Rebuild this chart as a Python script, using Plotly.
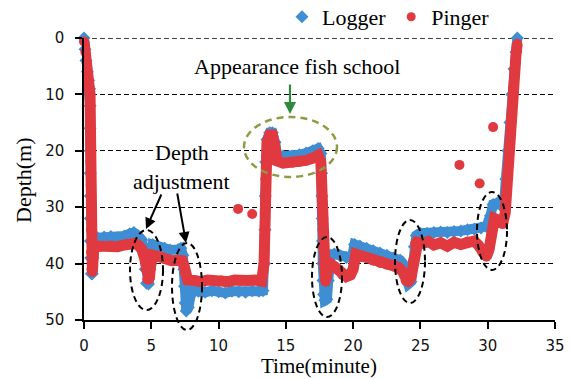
import plotly.graph_objects as go

# ---------------- data (time in minutes, depth in metres) ----------------
logger_t = [0.0, 0.08, 0.15, 0.25, 0.35, 0.42, 0.45, 0.45, 0.46, 0.46, 0.47, 0.47, 0.48, 0.5, 0.55, 0.62, 0.66, 0.68, 0.75,
            1.0, 1.5, 2.0, 2.5, 3.0, 3.4, 3.7, 4.0, 4.3, 4.45, 4.55, 4.65, 4.8, 4.9, 5.0, 5.1, 5.4, 6.0, 6.4, 7.0, 7.2,
            7.35, 7.42, 7.47, 7.52, 7.6, 7.75, 7.85, 8.0, 8.5, 9.0, 9.5, 10.0, 10.5, 11.0, 11.5, 12.0, 12.5, 13.0, 13.3,
            13.42, 13.45, 13.47, 13.5, 13.6, 13.8, 14.0, 14.2, 14.35, 14.8, 15.5, 16.0, 16.5, 17.0, 17.4, 17.6, 17.66,
            17.68, 17.7, 17.72, 17.74, 17.76, 17.8, 17.9, 18.05, 18.15, 18.3, 18.6, 19.0, 19.5, 19.9, 20.1, 20.5, 21.0,
            21.5, 22.0, 22.5, 23.0, 23.5, 23.7, 23.9, 24.1, 24.3, 24.45, 24.55, 24.7, 25.0, 25.5, 26.0, 26.5, 27.0, 27.5,
            28.0, 28.5, 29.0, 29.5, 29.9, 30.2, 30.4, 30.7, 31.0, 31.2, 31.35, 31.5, 31.65, 31.8, 31.95, 32.1, 32.2]
logger_d = [0.0, 2.0, 4.0, 6.0, 7.5, 9.0, 12.0, 16.0, 20.0, 24.0, 28.0, 32.0, 36.0, 39.0, 41.8, 41.8, 39.0, 36.0, 35.3,
            35.4, 35.3, 35.2, 35.4, 35.1, 34.7, 34.5, 35.0, 35.8, 38.0, 41.0, 43.5, 43.6, 41.0, 38.0, 36.6, 36.8, 37.3,
            37.6, 37.5, 37.3, 38.5, 41.0, 44.0, 47.0, 48.4, 47.8, 45.8, 44.8, 44.9, 45.1, 44.8, 45.0, 45.2, 44.9, 45.0,
            45.1, 44.8, 44.9, 44.8, 40.0, 34.0, 28.0, 22.0, 18.0, 16.8, 16.8, 18.5, 20.8, 20.9, 20.9, 20.7, 20.4, 20.0,
            19.6, 20.5, 24.0, 28.0, 32.0, 36.0, 40.0, 43.0, 45.5, 46.5, 46.3, 43.0, 38.5, 38.3, 38.5, 38.9, 39.0, 36.6,
            36.9, 37.3, 37.7, 38.1, 38.5, 39.0, 39.4, 40.0, 42.5, 43.6, 43.2, 40.0, 37.0, 35.0, 34.6, 34.6, 34.5, 34.4,
            34.5, 34.3, 34.2, 34.0, 33.9, 33.7, 33.4, 31.5, 29.5, 29.3, 29.8, 29.6, 25.0, 20.0, 15.0, 10.0, 5.5, 2.5, 0.0]

pinger_t = [0.0, 0.1, 0.2, 0.3, 0.38, 0.45, 0.47, 0.48, 0.49, 0.5, 0.5, 0.51, 0.52, 0.56, 0.62, 0.68, 0.72, 0.85,
            1.2, 1.6, 2.0, 2.5, 3.0, 3.5, 3.8, 4.1, 4.3, 4.5, 4.6, 4.7, 4.85, 4.95, 5.1, 5.5, 6.0, 6.5, 7.0, 7.3, 7.45,
            7.55, 7.7, 8.2, 8.7, 9.2, 9.7, 10.2, 10.7, 11.2, 11.7, 12.2, 12.7, 13.2, 13.38, 13.42, 13.45, 13.48, 13.52,
            13.6, 13.8, 14.0, 14.15, 14.35, 14.8, 15.5, 16.0, 16.5, 17.0, 17.4, 17.6, 17.65, 17.68, 17.7, 17.72, 17.75,
            17.8, 17.9, 17.95, 18.1, 18.3, 18.6, 18.9, 19.2, 19.5, 19.8, 20.0, 20.2, 20.6, 21.0, 21.5, 22.0, 22.5, 23.0,
            23.4, 23.7, 23.9, 24.1, 24.3, 24.45, 24.6, 24.8, 25.2, 25.6, 26.0, 26.5, 27.0, 27.5, 28.0, 28.5, 29.0, 29.3,
            29.6, 29.9, 30.1, 30.3, 30.5, 30.8, 31.1, 31.3, 31.45, 31.6, 31.75, 31.9, 32.0, 32.1, 32.2]
pinger_d = [0.6, 2.5, 4.5, 7.0, 8.5, 10.0, 14.0, 18.0, 22.0, 26.0, 30.0, 34.0, 38.0, 41.0, 41.5, 39.0, 37.5, 36.9,
            37.0, 36.9, 36.8, 37.0, 36.7, 36.5, 36.4, 36.9, 37.5, 39.0, 41.0, 42.8, 42.8, 40.5, 38.5, 38.7, 39.2, 39.5,
            39.4, 39.5, 40.5, 42.0, 42.9, 43.0, 43.2, 42.9, 43.1, 43.0, 43.2, 42.9, 43.1, 43.0, 42.9, 43.1, 40.0, 35.0,
            30.0, 25.0, 21.0, 18.5, 17.2, 17.2, 18.8, 21.8, 22.2, 22.1, 22.0, 21.7, 21.3, 20.8, 22.0, 25.0, 28.0, 31.0,
            34.0, 37.0, 40.0, 42.5, 43.2, 41.0, 40.0, 40.5, 41.0, 42.0, 42.3, 42.0, 41.0, 38.3, 38.6, 39.0, 39.5, 39.9,
            40.2, 40.5, 40.7, 41.5, 43.0, 43.3, 42.5, 39.5, 36.5, 36.2, 36.4, 36.1, 36.7, 36.3, 36.9, 36.2, 36.6, 36.1,
            36.0, 36.7, 38.0, 38.8, 37.5, 34.5, 32.0, 32.3, 33.0, 31.0, 24.0, 19.0, 14.0, 9.0, 5.5, 3.0, 1.0]

pinger_out_t = [11.45, 12.5, 27.9, 29.4, 30.4]
pinger_out_d = [30.3, 31.2, 22.5, 25.8, 15.8]

x_ticks = [0, 5, 10, 15, 20, 25, 30, 35]
y_ticks = [0, 10, 20, 30, 40, 50]

BLUE = "#3F8ED3"
RED = "#E03A40"
SERIF = "Liberation Serif"
SANS = "DejaVu Sans"

W, H = 571, 379
# plot area in pixels (for placing annotations)
PX0, PX1, PY0, PY1 = 84, 555, 38, 320


def fx(px):
    return (px - PX0) / (PX1 - PX0)


def fy(py):
    return 1 - (py - PY0) / (PY1 - PY0)


fig = go.Figure()
fig.add_trace(go.Scatter(x=logger_t, y=logger_d, mode="lines+markers", name="Logger",
                         line=dict(color=BLUE, width=10),
                         marker=dict(symbol="diamond", size=10, color=BLUE),
                         showlegend=False, cliponaxis=False))
fig.add_trace(go.Scatter(x=pinger_t, y=pinger_d, mode="lines+markers", name="Pinger",
                         line=dict(color=RED, width=11),
                         marker=dict(symbol="circle", size=10, color=RED),
                         showlegend=False, cliponaxis=False))
fig.add_trace(go.Scatter(x=pinger_out_t, y=pinger_out_d, mode="markers", name="Pinger",
                         marker=dict(symbol="circle", size=10, color=RED),
                         showlegend=False, cliponaxis=False))
# legend entries
fig.add_trace(go.Scatter(x=[None], y=[None], mode="markers", name="Logger",
                         marker=dict(symbol="diamond", size=10, color=BLUE)))
fig.add_trace(go.Scatter(x=[None], y=[None], mode="markers", name="Pinger",
                         marker=dict(symbol="circle", size=9, color=RED)))

shapes = []
# top dashed gridline at depth 0
shapes.append(dict(type="line", xref="paper", yref="y", x0=0, x1=1, y0=0, y1=0,
                   line=dict(color="black", width=1.3, dash="5px,3px"), layer="below"))
# black dashed ellipses (pixel boxes)
for (x0, x1, y0, y1) in [(130, 163, 230, 310), (172, 202, 243, 330), (312, 342, 237, 317),
                         (395, 425, 220, 303), (477, 507, 192, 270)]:
    shapes.append(dict(type="circle", xref="paper", yref="paper",
                       x0=fx(x0), x1=fx(x1), y0=fy(y1), y1=fy(y0),
                       line=dict(color="black", width=2, dash="6px,4px")))
# green dashed ellipse
shapes.append(dict(type="circle", xref="paper", yref="paper",
                   x0=fx(244), x1=fx(337), y0=fy(177), y1=fy(117),
                   line=dict(color="#8E9B45", width=2.5, dash="7px,5px")))

annotations = [
    dict(x=fx(297), y=fy(66), xref="paper", yref="paper", text="Appearance fish school",
         showarrow=False, font=dict(family=SERIF, size=22, color="black"),
         xanchor="center", yanchor="middle"),
    dict(x=fx(290), y=fy(114), xref="paper", yref="paper", ax=0, ay=-31, text="",
         showarrow=True, arrowhead=2, arrowsize=1.1, arrowwidth=2.2, arrowcolor="#2E8B3E"),
    dict(x=fx(182), y=fy(152), xref="paper", yref="paper", text="Depth",
         showarrow=False, font=dict(family=SERIF, size=22, color="black"),
         xanchor="center", yanchor="middle", bgcolor="white", borderpad=0),
    dict(x=fx(181), y=fy(181), xref="paper", yref="paper", text="adjustment",
         showarrow=False, font=dict(family=SERIF, size=22, color="black"),
         xanchor="center", yanchor="middle"),
    dict(x=fx(146), y=fy(229), xref="paper", yref="paper", ax=16, ay=-36, text="",
         showarrow=True, arrowhead=2, arrowsize=1.1, arrowwidth=2, arrowcolor="black"),
    dict(x=fx(186), y=fy(243), xref="paper", yref="paper", ax=-9, ay=-51, text="",
         showarrow=True, arrowhead=2, arrowsize=1.1, arrowwidth=2, arrowcolor="black"),
    # axis titles placed as text annotations in the margins
    dict(x=fx(319), y=fy(366), xref="paper", yref="paper", text="Time(minute)",
         showarrow=False, font=dict(family=SERIF, size=21, color="black"),
         xanchor="center", yanchor="middle"),
    dict(x=fx(23), y=fy(180), xref="paper", yref="paper", text="Depth(m)", textangle=-90,
         showarrow=False, font=dict(family=SERIF, size=22, color="black"),
         xanchor="center", yanchor="middle"),
]

fig.update_layout(
    width=W, height=H,
    font=dict(family=SERIF, size=22, color="black"),
    margin=dict(l=84, r=16, t=38, b=59, autoexpand=False),
    paper_bgcolor="white", plot_bgcolor="white",
    shapes=shapes, annotations=annotations,
    legend=dict(orientation="h", xref="container", yref="container",
                x=282 / W, y=1 - 17 / H, xanchor="left", yanchor="middle",
                font=dict(family=SERIF, size=22, color="black"), bgcolor="rgba(0,0,0,0)",
                itemwidth=30, traceorder="normal"),
    xaxis=dict(range=[0, 35], tickvals=x_ticks, ticktext=[str(v) for v in x_ticks],
               showgrid=False, zeroline=False, showline=True, linecolor="black", linewidth=1.5,
               ticks="outside", ticklen=7, tickwidth=1.5, tickcolor="black", automargin=False,
               tickfont=dict(family=SANS, size=15, color="#111"), ticklabelstandoff=4),
    yaxis=dict(range=[50, 0], tickvals=y_ticks, ticktext=[str(v) for v in y_ticks],
               showgrid=True, gridcolor="black", gridwidth=1.3, griddash="5px,3px",
               zeroline=False, showline=True, linecolor="black", linewidth=1.5,
               ticks="outside", ticklen=7, tickwidth=1.5, tickcolor="black", automargin=False,
               tickfont=dict(family=SANS, size=15, color="#111"), ticklabelstandoff=8),
)

fig.write_html("out.html", config={"displayModeBar": False},
               post_script="document.body.style.margin='0';document.body.style.overflow='hidden';")
